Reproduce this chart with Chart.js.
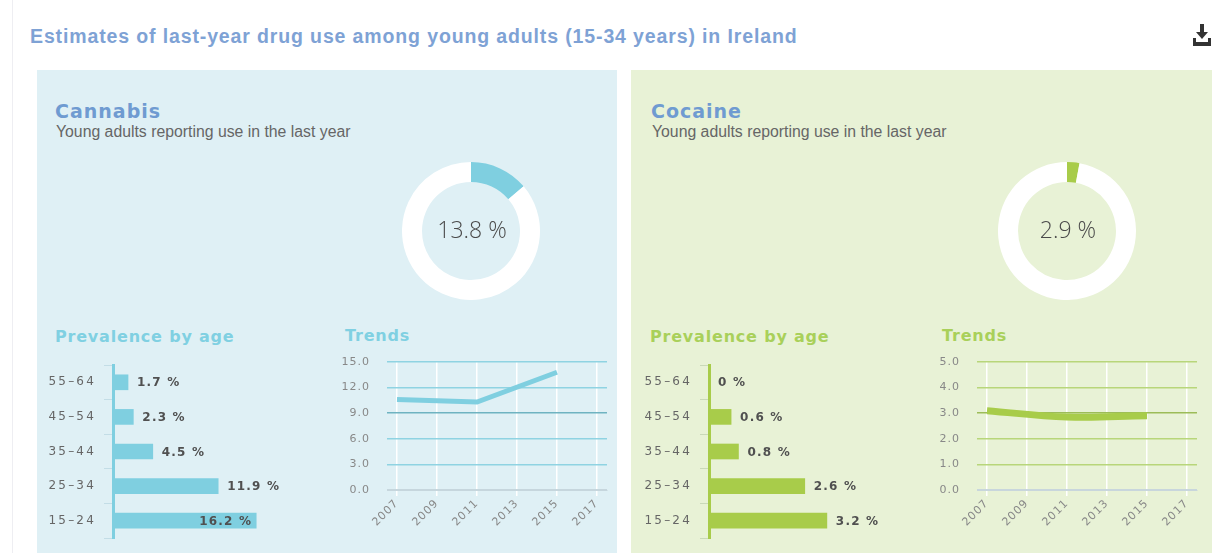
<!DOCTYPE html>
<html>
<head>
<meta charset="utf-8">
<script src="https://cdn.jsdelivr.net/npm/chart.js@4.4.1/dist/chart.umd.min.js"></script>
<style>
  html, body { margin: 0; padding: 0; }
  body { width: 1212px; height: 553px; overflow: hidden; background: #ffffff; position: relative;
         font-family: "Liberation Sans", Arial, sans-serif; }
  .abs { position: absolute; white-space: nowrap; line-height: 1; }
  #edge { position: absolute; left: 12px; top: 0; width: 1px; height: 553px; background: #eeeef2; }
  #title { left: 30px; top: 27px; font-size: 19.5px; font-weight: bold; letter-spacing: 0.87px; color: #7ea2d5; }
  .panel { position: absolute; top: 70px; height: 500px; }
  #panelC { left: 37px; width: 580px; background: #dff0f5; }
  #panelK { left: 631px; width: 600px; background: #e8f2d6; }
  .head { font-family: "DejaVu Sans", sans-serif; font-weight: bold; font-size: 19px; letter-spacing: 1px; color: #6f9bd1; }
  .sub { font-size: 15.8px; color: #666666; }
  .h2 { font-family: "DejaVu Sans", sans-serif; font-weight: bold; font-size: 16px; letter-spacing: 0.8px; }
  .cy { color: #80d0e2; }
  .gr { color: #a9d05a; }
  .pct { font-family: "Open Sans", sans-serif; font-weight: 300; font-size: 23px; color: #4a4a4a; width: 140px; text-align: center; }
  canvas.abs { display: block; }
</style>
</head>
<body>
<div id="edge"></div>
<div id="title" class="abs">Estimates of last-year drug use among young adults (15-34 years) in Ireland</div>
<svg style="position:absolute;left:1193px;top:24px" width="18" height="23" viewBox="0 0 18 23">
  <rect x="7" y="0" width="4" height="9" fill="#333"/>
  <polygon points="3,8 15,8 9,15" fill="#333"/>
  <polygon points="0,14 3,14 3,18 15,18 15,14 18,14 18,22 0,22" fill="#333"/>
</svg>

<div id="panelC" class="panel"></div>
<div id="panelK" class="panel"></div>

<div class="abs head" style="left:55px;top:102px">Cannabis</div>
<div class="abs sub" style="left:56px;top:124px">Young adults reporting use in the last year</div>
<div class="abs head" style="left:651px;top:102px">Cocaine</div>
<div class="abs sub" style="left:652px;top:124px">Young adults reporting use in the last year</div>

<div class="abs h2 cy" style="left:55px;top:329px">Prevalence by age</div>
<div class="abs h2 cy" style="left:345px;top:328px">Trends</div>
<div class="abs h2 gr" style="left:650px;top:329px">Prevalence by age</div>
<div class="abs h2 gr" style="left:942px;top:328px">Trends</div>

<canvas id="donutC" class="abs" style="left:402px;top:162px" width="138" height="138"></canvas>
<canvas id="donutK" class="abs" style="left:998px;top:162px" width="138" height="138"></canvas>
<div id="pctC" class="abs pct" style="left:402px;top:218px"></div>
<div id="pctK" class="abs pct" style="left:998px;top:218px"></div>

<canvas id="barC" class="abs" style="left:38px;top:357px" width="306" height="189"></canvas>
<canvas id="barK" class="abs" style="left:634px;top:357px" width="306" height="189"></canvas>

<canvas id="lineC" class="abs" style="left:335px;top:352px" width="277" height="188"></canvas>
<canvas id="lineK" class="abs" style="left:925px;top:352px" width="277" height="188"></canvas>

<script>
// ---------------- DATA ----------------
const ageGroups = ['55–64', '45–54', '35–44', '25–34', '15–24'];
const cannabisByAge = [1.7, 2.3, 4.5, 11.9, 16.2];
const cocaineByAge = [0, 0.6, 0.8, 2.6, 3.2];

const cannabisTotal = 13.8;
const cocaineTotal = 2.9;

const trendYears = [2007, 2011, 2015];
const cannabisTrend = [10.6, 10.3, 13.8];
const cocaineTrend = [3.1, 2.85, 2.9];

const trendTickYears = [2007, 2009, 2011, 2013, 2015, 2017];
const cannabisTrendTicks = [0, 3, 6, 9, 12, 15];
const cocaineTrendTicks = [0, 1, 2, 3, 4, 5];

// ---------------- STYLE ----------------
const CYAN = '#7fcfe0';
const GREEN = '#a8cc4a';

Chart.defaults.font.family = '"DejaVu Sans", sans-serif';
Chart.defaults.animation = false;
Chart.defaults.events = [];
Chart.defaults.responsive = false;
Chart.defaults.devicePixelRatio = 1;

function zeroPad(axis) {
  axis.paddingTop = 0; axis.paddingBottom = 0; axis.paddingLeft = 0; axis.paddingRight = 0;
}

function spacingPlugin(px) {
  return { id: 'spacing', beforeDraw(chart) { chart.ctx.letterSpacing = px; } };
}

const barLabels = {
  id: 'barLabels',
  afterDatasetsDraw(chart, args, opts) {
    const ctx = chart.ctx;
    const meta = chart.getDatasetMeta(0);
    const values = chart.data.datasets[0].data;
    ctx.save();
    ctx.font = 'bold 12px "DejaVu Sans"';
    ctx.letterSpacing = '1.2px';
    ctx.fillStyle = '#505050';
    ctx.textBaseline = 'middle';
    meta.data.forEach((bar, i) => {
      const txt = String(values[i]) + ' %';
      if (opts.insideIndex === i) {
        ctx.textAlign = 'right';
        ctx.fillText(txt, bar.x - 4, bar.y + 1);
      } else {
        ctx.textAlign = 'left';
        ctx.fillText(txt, bar.x + 9, bar.y + 1);
      }
    });
    ctx.restore();
  }
};

function donut(id, textId, value, color) {
  document.getElementById(textId).textContent = value.toFixed(1) + ' %';
  new Chart(document.getElementById(id), {
    type: 'doughnut',
    data: { datasets: [{ data: [value, 100 - value], backgroundColor: [color, '#ffffff'], borderWidth: 0, hoverOffset: 0 }] },
    options: {
      cutout: '71%',
      plugins: { legend: { display: false }, tooltip: { enabled: false } }
    }
  });
}

function bars(id, values, color, max, insideIndex, tickColor) {
  new Chart(document.getElementById(id), {
    type: 'bar',
    data: { labels: ageGroups, datasets: [{ data: values, backgroundColor: color, barThickness: 15, borderWidth: 0 }] },
    options: {
      indexAxis: 'y',
      layout: { padding: { top: 8, bottom: 8, left: 0, right: 10 } },
      scales: {
        x: { display: false, min: 0, max: max },
        y: {
          afterFit(axis) { axis.width = 75; zeroPad(axis); },
          grid: { display: true, drawOnChartArea: false, drawTicks: true, tickLength: 9, tickColor: tickColor, lineWidth: 1 },
          border: { display: true, color: color, width: 3 },
          ticks: { color: '#666666', font: { size: 12 }, padding: 8 }
        }
      },
      plugins: { legend: { display: false }, tooltip: { enabled: false }, barLabels: { insideIndex: insideIndex } }
    },
    plugins: [barLabels, spacingPlugin('2.2px')]
  });
}

function trend(id, values, color, width, tension, yTicks, lineCol, darkCol, baseCol) {
  const maxY = yTicks[yTicks.length - 1];
  const darkVal = yTicks[3];
  new Chart(document.getElementById(id), {
    type: 'line',
    data: {
      datasets: [{
        data: trendYears.map((yr, i) => ({ x: yr, y: values[i] })),
        borderColor: color, borderWidth: width, pointRadius: 0, tension: tension, fill: false
      }]
    },
    options: {
      layout: { padding: { top: 10, right: 5, left: 0, bottom: 0 }, autoPadding: false },
      scales: {
        x: {
          type: 'linear', min: trendTickYears[0] - 0.5, max: trendTickYears[trendTickYears.length - 1] + 0.5,
          afterBuildTicks(axis) { axis.ticks = trendTickYears.map(v => ({ value: v })); },
          afterFit(axis) { axis.height = 50; zeroPad(axis); },
          grid: { color: '#ffffff', lineWidth: 1.5, tickLength: 6, tickColor: '#ffffff' },
          border: { display: true, color: baseCol, width: 1 },
          ticks: { color: '#888888', font: { size: 11 }, minRotation: 45, maxRotation: 45, padding: 1, callback: v => String(v) }
        },
        y: {
          min: 0, max: maxY,
          afterBuildTicks(axis) { axis.ticks = yTicks.map(v => ({ value: v })); },
          afterFit(axis) { axis.width = 52; zeroPad(axis); },
          grid: {
            drawTicks: false, lineWidth: 1.5,
            color: c => c.tick.value === 0 ? baseCol : (c.tick.value === darkVal ? darkCol : lineCol)
          },
          border: { display: false },
          ticks: { color: '#888888', font: { size: 11 }, padding: 17, callback: v => Number(v).toFixed(1) }
        }
      },
      plugins: { legend: { display: false }, tooltip: { enabled: false } }
    },
    plugins: [spacingPlugin('1px')]
  });
}

donut('donutC', 'pctC', cannabisTotal, CYAN);
donut('donutK', 'pctK', cocaineTotal, GREEN);
bars('barC', cannabisByAge, CYAN, 25, 4, '#c3dde6');
bars('barK', cocaineByAge, GREEN, 6, -1, '#c9d9b8');
trend('lineC', cannabisTrend, CYAN, 5, 0, cannabisTrendTicks, '#8fd3e2', '#6fb3c1', '#c6d6dd');
trend('lineK', cocaineTrend, GREEN, 7, 0.4, cocaineTrendTicks, '#b8d67a', '#9cbc58', '#c8d6dc');
</script>
</body>
</html>
